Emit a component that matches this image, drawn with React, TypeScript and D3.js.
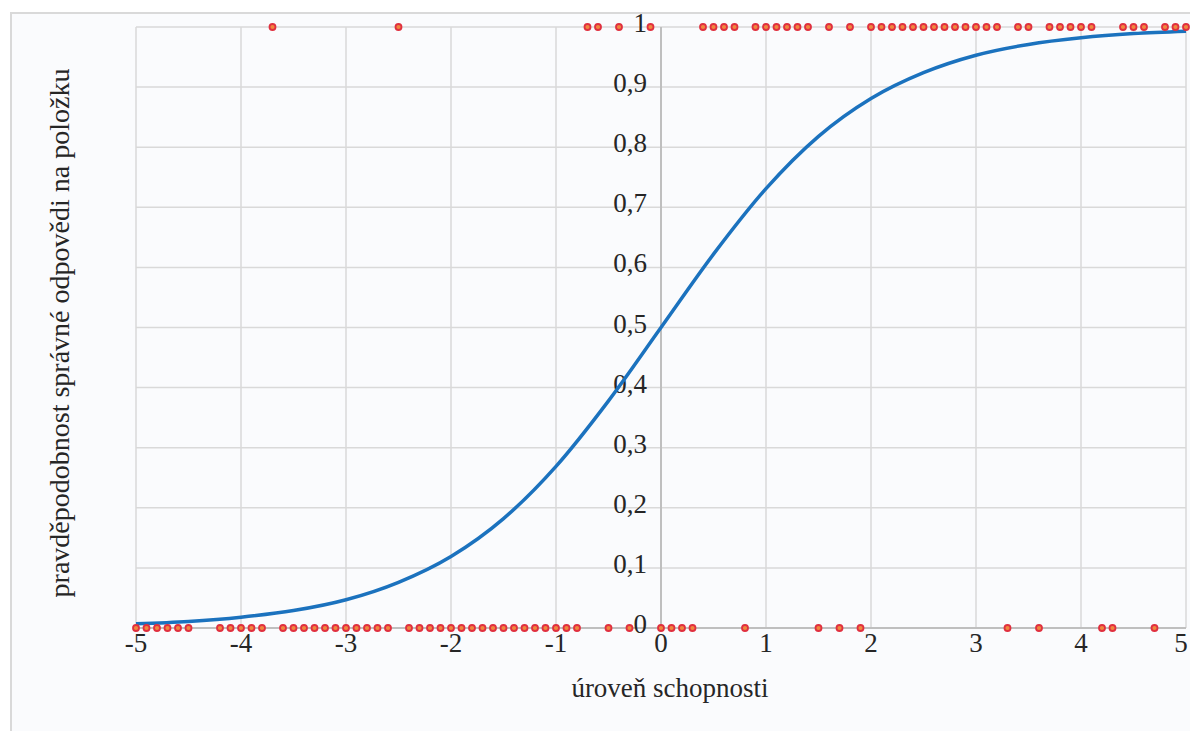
import React from 'react';
import * as d3 from 'd3';

// ability level values for the fitted curve
const curveX = [-5, -4.5, -4, -3.5, -3, -2.5, -2, -1.5, -1, -0.5, 0, 0.5, 1, 1.5, 2, 2.5, 3, 3.5, 4, 4.5, 5];
const curveY = [0.007, 0.011, 0.018, 0.029, 0.047, 0.076, 0.119, 0.182, 0.269, 0.378, 0.5, 0.622, 0.731, 0.818, 0.881, 0.924, 0.953, 0.971, 0.982, 0.989, 0.993];

// observed answers: correct (1) and wrong (0)
const correctX = [
  -3.7, -2.5, -0.7, -0.6, -0.4, -0.1, 0.4, 0.5, 0.6, 0.7, 0.9, 1.0, 1.1, 1.2, 1.3, 1.4, 1.6, 1.8,
  2.0, 2.1, 2.2, 2.3, 2.4, 2.5, 2.6, 2.7, 2.8, 2.9, 3.0, 3.1, 3.2, 3.4, 3.5,
  3.7, 3.8, 3.9, 4.0, 4.1, 4.4, 4.5, 4.6, 4.8, 4.9, 5.0,
];
const wrongX = [
  -5.0, -4.9, -4.8, -4.7, -4.6, -4.5, -4.2, -4.1, -4.0, -3.9, -3.8,
  -3.6, -3.5, -3.4, -3.3, -3.2, -3.1, -3.0, -2.9, -2.8, -2.7, -2.6,
  -2.4, -2.3, -2.2, -2.1, -2.0, -1.9, -1.8, -1.7, -1.6, -1.5, -1.4, -1.3, -1.2, -1.1, -1.0, -0.9, -0.8,
  -0.5, -0.3, 0.0, 0.1, 0.2, 0.3, 0.8, 1.5, 1.7, 1.9, 3.3, 3.6, 4.2, 4.3, 4.7,
];

const xTicks = [-5, -4, -3, -2, -1, 0, 1, 2, 3, 4, 5];
const yTicks = [0, 0.1, 0.2, 0.3, 0.4, 0.5, 0.6, 0.7, 0.8, 0.9, 1];

const xTitle = 'úroveň schopnosti';
const yTitle = 'pravděpodobnost správné odpovědi na položku';

export default function App() {
  const W = 1190;
  const H = 731;
  const txt: React.CSSProperties = {
    fontFamily: "'Liberation Serif', 'DejaVu Serif', 'Noto Serif', 'Times New Roman', Tinos, Times, serif",
  };

  const x = d3.scaleLinear().domain([-5, 5]).range([136, 1186]);
  const y = d3.scaleLinear().domain([0, 1]).range([628, 27]);

  const line = d3.line<number>()
    .x((d, i) => x(curveX[i]))
    .y(d => y(d))
    .curve(d3.curveMonotoneX);

  const fmt = (v: number) => d3.format('.1~f')(v).replace('.', ',');

  return (
    <svg width={W} height={H} style={{ position: 'absolute', left: 0, top: 0 }}>
      <rect x={0} y={0} width={W} height={H} fill="#ffffff" />
      <rect x={11} y={13} width={W} height={H} fill="#fafbfd" stroke="#d9d9d9" strokeWidth={2} />

      {/* gridlines */}
      {yTicks.filter(t => t !== 0).map(t => (
        <line key={'gy' + t} x1={x(-5)} x2={x(5)} y1={y(t)} y2={y(t)} stroke="#d9d9d9" strokeWidth={1.5} />
      ))}
      {xTicks.filter(t => t !== 0).map(t => (
        <line key={'gx' + t} x1={x(t)} x2={x(t)} y1={y(0)} y2={y(1)} stroke="#d9d9d9" strokeWidth={1.5} />
      ))}

      {/* axes through zero */}
      <line x1={x(0)} x2={x(0)} y1={y(0)} y2={y(1)} stroke="#bfbfbf" strokeWidth={2} />
      <line x1={x(-5)} x2={x(5)} y1={y(0)} y2={y(0)} stroke="#bfbfbf" strokeWidth={2} />

      {/* tick labels */}
      {xTicks.map(t => (
        <text key={'tx' + t} x={x(t) - (t === 5 ? 5 : 0)} y={y(0) + 24} textAnchor="middle" style={txt} fontSize={27} fill="#262626">
          {t < 0 ? '-' + Math.abs(t) : String(t)}
        </text>
      ))}
      {yTicks.map(t => (
        <text key={'ty' + t} x={x(0) - 14} y={y(t) + 5} textAnchor="end" style={txt} fontSize={27} fill="#262626">
          {fmt(t)}
        </text>
      ))}

      {/* fitted curve */}
      <path d={line(curveY) || ''} fill="none" stroke="#1b72be" strokeWidth={3.5} />

      {/* observations */}
      {correctX.map((v, i) => (
        <circle key={'c' + i} cx={x(v)} cy={y(1)} r={3} fill="#f0883e" stroke="#e0303f" strokeWidth={1.8} />
      ))}
      {wrongX.map((v, i) => (
        <circle key={'w' + i} cx={x(v)} cy={y(0)} r={3} fill="#f0883e" stroke="#e0303f" strokeWidth={1.8} />
      ))}

      {/* titles */}
      <text x={670} y={697} textAnchor="middle" style={txt} fontSize={27} fill="#262626">{xTitle}</text>
      <text transform={`translate(69,333) rotate(-90)`} textAnchor="middle" style={txt} fontSize={28} fill="#262626">{yTitle}</text>
    </svg>
  );
}
